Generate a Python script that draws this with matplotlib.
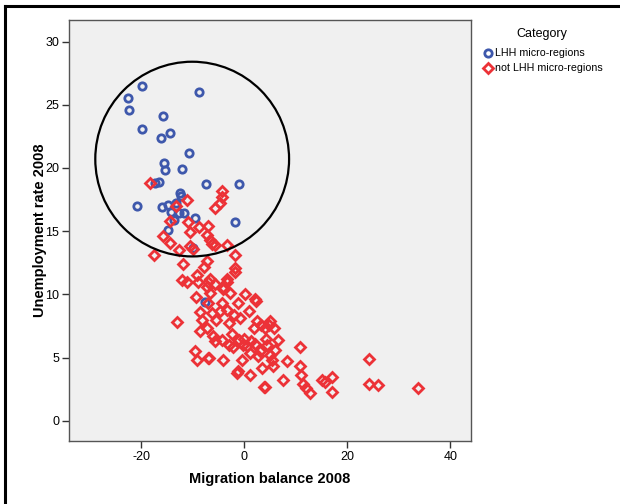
import matplotlib
matplotlib.use("Agg")
import matplotlib.pyplot as plt
from matplotlib.patches import Ellipse
from matplotlib.lines import Line2D

plt.rcParams['font.family'] = ['Liberation Sans', 'DejaVu Sans']
plt.rcParams['axes.unicode_minus'] = False

# ---- data ----
lhh_x = [-19.8, -22.6, -22.3, -8.8, -15.8, -19.8, -14.4, -16.2, -10.8, -15.5,
         -15.4, -12.0, -16.5, -17.3, -7.5, -1.0, -12.4, -12.3, -20.8, -15.9,
         -14.8, -13.3, -14.2, -12.7, -11.7, -13.7, -9.5, -1.7, -14.8, -9.9, -7.6]
lhh_y = [26.5, 25.5, 24.6, 26.0, 24.1, 23.1, 22.8, 22.4, 21.2, 20.4,
         19.8, 19.9, 18.9, 18.8, 18.7, 18.7, 18.0, 17.8, 17.0, 16.9,
         17.1, 17.2, 16.5, 16.4, 16.4, 15.9, 16.0, 15.7, 15.1, 13.7, 9.4]

not_x = [-18.2, -4.4, -4.4, -4.8, -5.7, -11.2, -13.2, -14.5, -11.0, -8.7,
         -7.0, -10.5, -15.8, -7.3, -6.6, -5.7, -6.2, -14.4, -12.6, -10.5,
         -10.0, -3.4, -17.5, -1.8,
         -11.8, -7.3, -7.9, -1.8, -9.2, -12.1, -11.2, -8.9, -6.6, -3.4,
         -1.8, -4.1, -7.3, -5.7, -7.0, -3.4, 0.1, 2.1, -2.8, -9.3, -6.6, -4.1,
         -7.0, -4.4, -1.2, 2.3, -8.6, -6.3, -4.8, -3.4, 1.0, -0.8, -2.9, -8.1,
         -13.1, -8.6, -7.3, 2.5, 5.0, 4.0, 5.8, -5.5, -2.0, 3.2, 4.8, 1.8,
         -6.0, -4.4, -2.3, -5.7, 1.4, -0.2, 4.3, 6.6, 10.8, -9.5, -6.8, -4.1,
         -2.1, -0.5, 1.1, 2.7, 5.3, 3.4, 5.6, 8.2, 10.8, -1.2, 1.1, 7.6, 4.0,
         11.1, 11.4, 12.0, 12.7, 15.0, 15.6, 17.0, 17.0, 24.3, 24.2, 25.9, 33.8,
         -9.2, -7.0, 3.8, -1.5, 0.5, 2.0, -3.0, 3.0, 6.0, 5.0, -1.0, 0.0, 4.5]
not_y = [18.8, 18.2, 17.7, 17.2, 16.8, 17.5, 17.0, 15.8, 15.7, 15.3,
         15.4, 14.9, 14.6, 14.7, 14.3, 13.9, 14.0, 14.1, 13.5, 13.8,
         13.6, 13.9, 13.1, 13.1,
         12.4, 12.6, 12.2, 12.1, 11.5, 11.1, 11.0, 11.0, 11.2, 11.2,
         11.8, 10.6, 10.6, 10.8, 11.0, 11.0, 10.0, 9.6, 10.1, 9.8, 10.1, 10.4,
         9.3, 9.3, 9.3, 9.5, 8.6, 8.5, 8.7, 8.8, 8.7, 8.1, 7.7, 8.0,
         7.8, 7.1, 7.3, 7.9, 7.9, 7.3, 7.3, 8.0, 8.4, 7.6, 7.6, 7.3,
         6.7, 6.4, 6.9, 6.3, 6.3, 6.0, 6.5, 6.4, 5.8, 5.5, 5.0, 4.8,
         5.8, 4.8, 5.4, 5.1, 4.8, 4.2, 4.3, 4.7, 4.3, 3.9, 3.6, 3.2, 2.7,
         3.6, 2.9, 2.6, 2.2, 3.2, 3.1, 3.5, 2.3, 4.9, 2.9, 2.8, 2.6,
         4.8, 5.0, 2.7, 3.8, 5.9, 6.1, 6.0, 5.5, 5.6, 5.2, 6.4, 6.5, 6.0]

x_ticks = [-20, 0, 20, 40]
y_ticks = [0, 5, 10, 15, 20, 25, 30]
labels = ["LHH micro-regions", "not LHH micro-regions"]
legend_title = "Category"

# highlighted zone (circle in display, ellipse in data units)
zone_center = (-10.1, 20.7)
zone_w, zone_h = 37.6, 15.4

blue = "#3E58AC"
red = "#EC3237"
c_ms, c_mew = 5.3, 2.0
d_ms, d_mew = 4.9, 2.0

fig = plt.figure(figsize=(6.2, 5.04), dpi=100)
ax = fig.add_axes([0.1113, 0.125, 0.6484, 0.8353])
ax.set_facecolor("#F0F0F0")

ax.plot(lhh_x, lhh_y, linestyle="none", marker="o", ms=c_ms, mfc="none",
        mec=blue, mew=c_mew, zorder=3)
ax.plot(not_x, not_y, linestyle="none", marker="D", ms=d_ms, mfc="none",
        mec=red, mew=d_mew, zorder=4)

ax.add_patch(Ellipse(zone_center, zone_w, zone_h, fill=False, ec="black",
                     lw=1.6, zorder=5))

ax.set_xlim(-34, 44)
ax.set_ylim(-1.6, 31.7)
ax.set_xticks(x_ticks)
ax.set_yticks(y_ticks)
ax.tick_params(direction="out", length=5, width=1, color="#333333",
               labelsize=9, pad=2)
for s in ax.spines.values():
    s.set_color("#555555")
    s.set_linewidth(1)

ax.set_xlabel("Migration balance 2008", fontsize=10.5, fontweight="bold", labelpad=7)
ax.set_ylabel("Unemployment rate 2008", fontsize=10.5, fontweight="bold", labelpad=-1)

# legend (drawn manually in figure pixels)
W, H = 620, 504
def fx(px): return px / W
def fy(py): return 1 - py / H
fig.text(fx(542), fy(34), legend_title, ha="center", va="center", fontsize=9)
fig.add_artist(Line2D([fx(488)], [fy(53)], transform=fig.transFigure, linestyle="none",
                      marker="o", ms=c_ms, mfc="none", mec=blue, mew=c_mew))
fig.add_artist(Line2D([fx(488)], [fy(68)], transform=fig.transFigure, linestyle="none",
                      marker="D", ms=d_ms, mfc="none", mec=red, mew=d_mew))
fig.text(fx(495), fy(53), labels[0], ha="left", va="center", fontsize=7.7)
fig.text(fx(495), fy(68), labels[1], ha="left", va="center", fontsize=7.7)

# outer frame
fig.add_artist(Line2D([0.008, 0.008], [0, 0.988], transform=fig.transFigure,
                      color="black", lw=2.2))
fig.add_artist(Line2D([0.008, 1.0], [0.988, 0.988], transform=fig.transFigure,
                      color="black", lw=2.2))

fig.savefig("out.png", dpi=100)
